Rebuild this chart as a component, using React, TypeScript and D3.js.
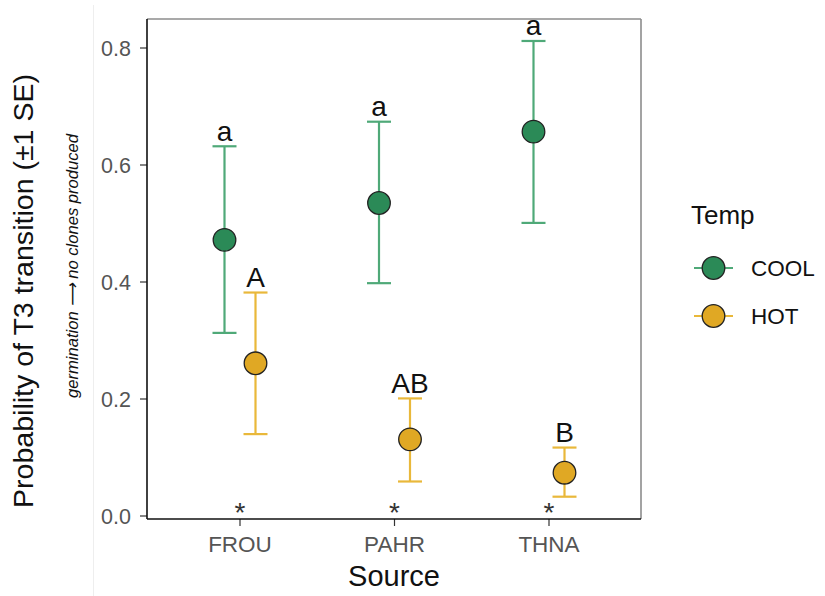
import React from "react";
import * as d3 from "d3";

// Sources on the x axis and the two temperature treatments
const sources = ["FROU", "PAHR", "THNA"];
const temps = ["COOL", "HOT"];

// Estimated transition probabilities with ±1 SE bounds
const coolMean = [0.472, 0.535, 0.657];
const coolLower = [0.313, 0.398, 0.501];
const coolUpper = [0.632, 0.674, 0.812];
const hotMean = [0.261, 0.131, 0.074];
const hotLower = [0.14, 0.059, 0.033];
const hotUpper = [0.382, 0.201, 0.117];

// Compact-letter groupings drawn above each upper error bar
const coolLetters = ["a", "a", "a"];
const hotLetters = ["A", "AB", "B"];
const starLabels = ["*", "*", "*"];

const yTicks = [0, 0.2, 0.4, 0.6, 0.8];

const W = 825;
const H = 596;
const panel = { left: 147, right: 641, top: 19, bottom: 519 };

const FONT = "'Liberation Sans', Arial, Helvetica, sans-serif";

const fills: Record<string, string> = { COOL: "#2b8a57", HOT: "#e0a824" };
const barColors: Record<string, string> = { COOL: "#4fa978", HOT: "#e9b83a" };

export default function App() {
  const y = d3.scaleLinear().domain([0, 0.8]).range([516, 48]);
  const x = d3.scalePoint<string>().domain(sources).range([240, 549]);
  const dodge = d3.scaleOrdinal<string, number>().domain(temps).range([-15.5, 15.5]);

  const series = [
    { temp: "COOL", mean: coolMean, lower: coolLower, upper: coolUpper, letters: coolLetters },
    { temp: "HOT", mean: hotMean, lower: hotLower, upper: hotUpper, letters: hotLetters },
  ];

  const capHalf = 12;
  const r = 11.3;

  return (
    <svg
      width={W}
      height={H}
      viewBox={`0 0 ${W} ${H}`}
      style={{ display: "block", position: "absolute", left: 0, top: 0, background: "#fff" }}
      fontFamily={FONT}
    >
      <rect x={0} y={0} width={W} height={H} fill="#fff" />
      {/* faint figure edge */}
      <line x1={93.5} x2={93.5} y1={5} y2={H} stroke="#eeeeee" strokeWidth={1} />

      {/* panel border: top and right in grey */}
      <line x1={panel.left} x2={panel.right} y1={panel.top} y2={panel.top} stroke="#8c8c8c" strokeWidth={1.6} />
      <line x1={panel.right} x2={panel.right} y1={panel.top} y2={panel.bottom} stroke="#8c8c8c" strokeWidth={1.6} />

      {/* y axis */}
      {yTicks.map((t) => (
        <g key={t}>
          <line x1={panel.left - 7} x2={panel.left} y1={y(t)} y2={y(t)} stroke="#333" strokeWidth={1.2} />
          <text x={panel.left - 16} y={y(t)} dy="0.36em" textAnchor="end" fontSize={21.5} fill="#555">
            {d3.format(".1f")(t)}
          </text>
        </g>
      ))}

      {/* x axis ticks and labels */}
      {sources.map((s) => (
        <g key={s}>
          <line x1={x(s)} x2={x(s)} y1={panel.bottom} y2={panel.bottom + 7} stroke="#333" strokeWidth={1.2} />
          <text x={x(s)} y={552} textAnchor="middle" fontSize={22.5} fill="#555">
            {s}
          </text>
        </g>
      ))}

      {/* error bars, points and group letters */}
      {series.map((sr) =>
        sources.map((s, i) => {
          const cx = (x(s) as number) + dodge(sr.temp);
          return (
            <g key={sr.temp + s}>
              <line x1={cx} x2={cx} y1={y(sr.lower[i])} y2={y(sr.upper[i])} stroke={barColors[sr.temp]} strokeWidth={2.2} />
              <line x1={cx - capHalf} x2={cx + capHalf} y1={y(sr.lower[i])} y2={y(sr.lower[i])} stroke={barColors[sr.temp]} strokeWidth={2.2} />
              <line x1={cx - capHalf} x2={cx + capHalf} y1={y(sr.upper[i])} y2={y(sr.upper[i])} stroke={barColors[sr.temp]} strokeWidth={2.2} />
              <circle cx={cx} cy={y(sr.mean[i])} r={r} fill={fills[sr.temp]} stroke="#222" strokeWidth={1.3} />
              <text x={cx} y={y(sr.upper[i]) - 5.5} textAnchor="middle" fontSize={28} fill="#111">
                {sr.letters[i]}
              </text>
            </g>
          );
        })
      )}

      {/* asterisks at the baseline */}
      {sources.map((s, i) => (
        <text key={"st" + s} x={x(s)} y={y(0) + 6} textAnchor="middle" fontSize={28} fill="#333">
          {starLabels[i]}
        </text>
      ))}

      {/* axis lines */}
      <line x1={panel.left} x2={panel.left} y1={panel.top} y2={panel.bottom} stroke="#111" strokeWidth={1.6} />
      <line x1={panel.left} x2={panel.right} y1={panel.bottom} y2={panel.bottom} stroke="#111" strokeWidth={1.6} />

      {/* axis titles */}
      <text x={394} y={586} textAnchor="middle" fontSize={29} fill="#111">
        Source
      </text>
      <text
        transform="translate(33,291) rotate(-90)"
        textAnchor="middle"
        fontSize={27}
        fill="#111"
        textLength={434}
        lengthAdjust="spacingAndGlyphs"
      >
        Probability of T3 transition (±1 SE)
      </text>
      <text
        transform="translate(78,266) rotate(-90)"
        textAnchor="middle"
        fontSize={17}
        fontStyle="italic"
        fill="#111"
        textLength={264}
        lengthAdjust="spacingAndGlyphs"
      >
        germination ⟶ no clones produced
      </text>

      {/* legend */}
      <text x={691} y={224} fontSize={26} fill="#111">
        Temp
      </text>
      {temps.map((t, i) => {
        const ly = 268 + i * 48;
        return (
          <g key={"lg" + t}>
            <line x1={694} x2={733} y1={ly} y2={ly} stroke={barColors[t]} strokeWidth={2.2} />
            <circle cx={713.5} cy={ly} r={r} fill={fills[t]} stroke="#222" strokeWidth={1.3} />
            <text x={751} y={ly} dy="0.36em" fontSize={22.5} fill="#111">
              {t}
            </text>
          </g>
        );
      })}
    </svg>
  );
}
